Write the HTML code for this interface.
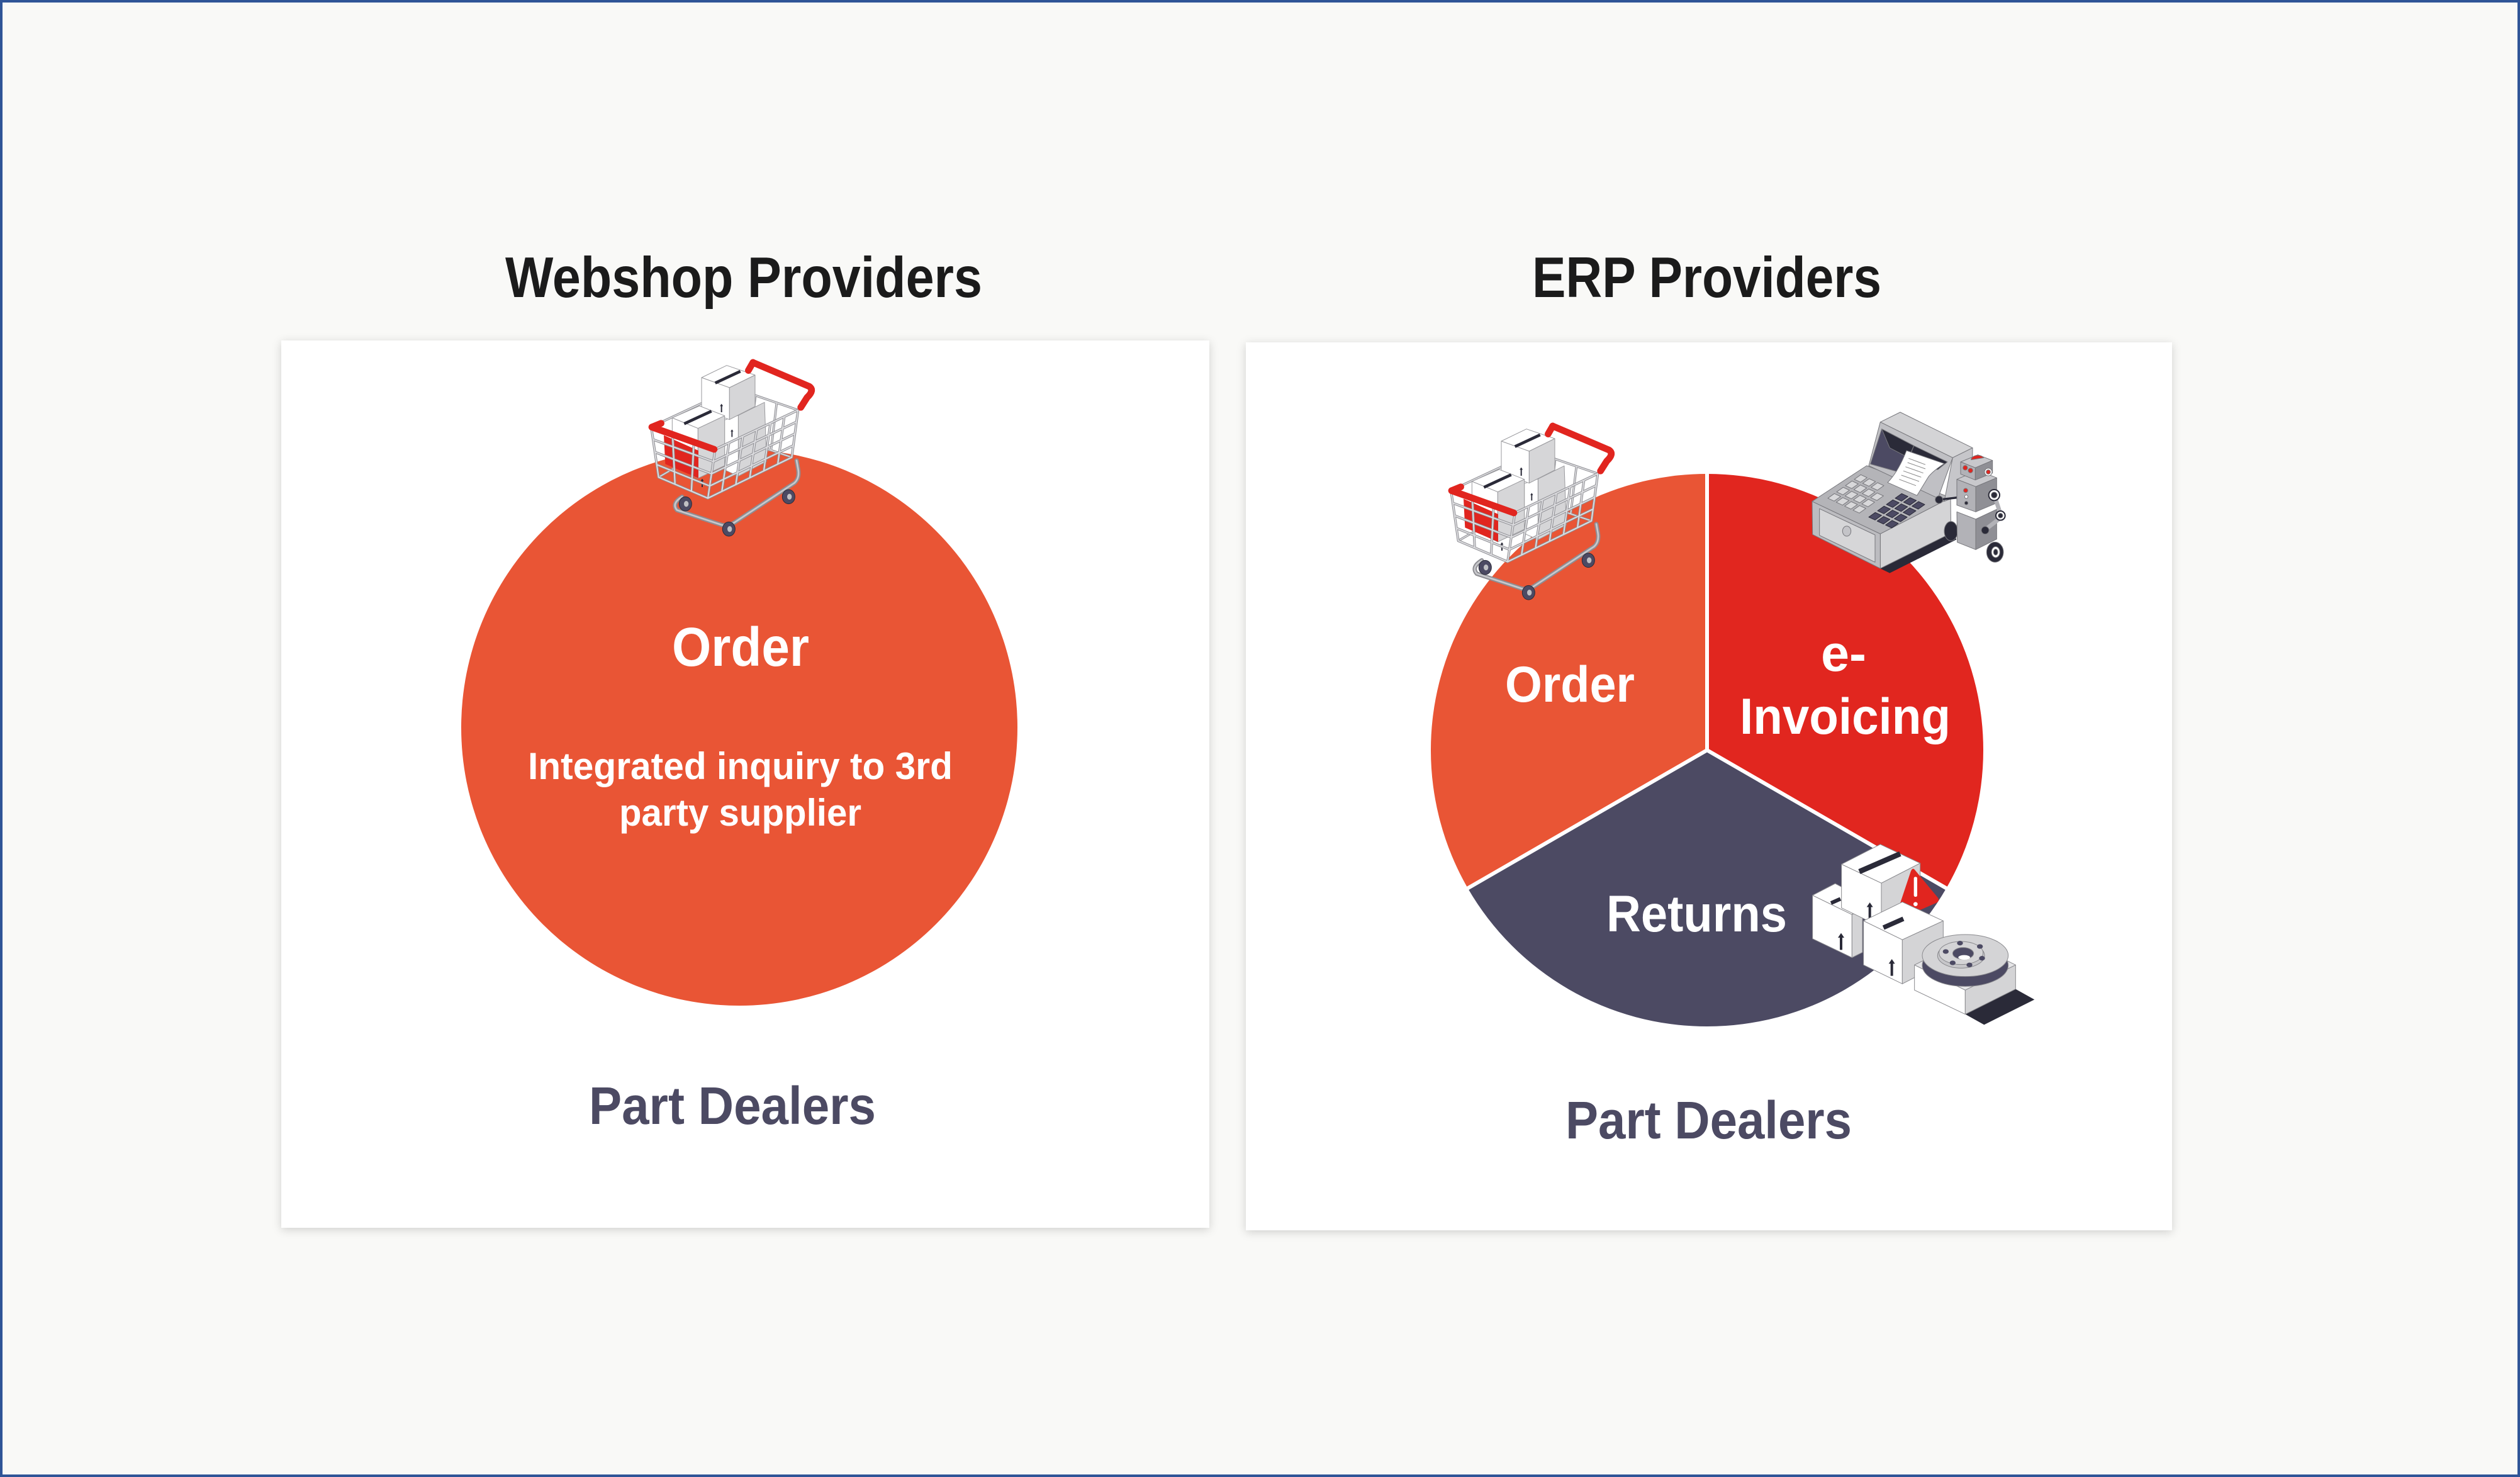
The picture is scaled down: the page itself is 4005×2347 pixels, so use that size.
<!DOCTYPE html>
<html><head><meta charset="utf-8">
<style>
html,body{margin:0;padding:0;}
body{width:4005px;height:2347px;position:relative;background:#f9f9f7;overflow:hidden;font-family:"Liberation Sans",Arial,sans-serif;}
.frame{position:absolute;left:0;top:0;width:4005px;height:2347px;box-sizing:border-box;border:4px solid #2f5597;}
.card{position:absolute;background:#fff;box-shadow:0 3px 14px rgba(0,0,0,0.17);}
svg{position:absolute;left:0;top:0;}
text{font-family:"Liberation Sans",Arial,sans-serif;font-weight:700;}
</style></head><body>
<div class="card" style="left:447px;top:541px;width:1475px;height:1410px"></div>
<div class="card" style="left:1980px;top:544px;width:1472px;height:1411px"></div>
<svg width="4005" height="2347" viewBox="0 0 4005 2347">
<defs>
  <path id="arr" d="M0 -40 L15 -18 L6 -18 L6 40 L-6 40 L-6 -18 L-15 -18 Z" fill="#2a2a38"/>
  <polygon id="lk" points="0,0 30,14 61,-8 31,-22" fill="#d8d8da" stroke="#77777c" stroke-width="3"/>
  <polygon id="dk" points="0,0 30,14 61,-8 31,-22" fill="#4c4a63" stroke="#2a2a38" stroke-width="3"/>
  <g id="cart" stroke-linejoin="round">
    <path d="M252 688 Q200 720 228 752 L440 822 Q470 830 500 812 L788 622 Q812 600 806 560 L798 515" fill="none" stroke="#8e8e93" stroke-width="20" stroke-linecap="round"/>
    <path d="M252 688 Q200 720 228 752 L440 822 Q470 830 500 812 L788 622 Q812 600 806 560 L798 515" fill="none" stroke="#c8c8cc" stroke-width="8" stroke-linecap="round"/>
    <g fill="#4c4a63" stroke="#2a2a38" stroke-width="3">
      <ellipse cx="268" cy="722" rx="30" ry="34"/><ellipse cx="760" cy="688" rx="30" ry="34"/><ellipse cx="475" cy="842" rx="30" ry="34"/>
    </g>
    <g fill="#c0c0c4">
      <ellipse cx="272" cy="722" rx="11" ry="14"/><ellipse cx="764" cy="688" rx="11" ry="14"/><ellipse cx="479" cy="842" rx="11" ry="14"/>
    </g>
    <g fill="none" stroke-linecap="round">
      <path d="M105 355 L500 170 L805 275 M500 170 L478 400 M140 595 L478 400 L775 500 M236.7 293.3 L252.7 530 M368.3 231.7 L365.3 465 M601.7 205 L577 433 M703.3 240 L676 466" stroke="#8f8f94" stroke-width="11"/>
      <path d="M105 355 L500 170 L805 275 M500 170 L478 400 M140 595 L478 400 L775 500 M236.7 293.3 L252.7 530 M368.3 231.7 L365.3 465 M601.7 205 L577 433 M703.3 240 L676 466" stroke="#dcdcdf" stroke-width="5"/>
    </g>
    <g stroke="#9a9a9e" stroke-width="3">
      <polygon points="520,300 645,238 655,520 520,590" fill="#d6d6d8"/>
      <polygon points="455,322 520,300 520,590 455,560" fill="#fff"/>
      <polygon points="345,120 465,62 600,108 478,168" fill="#fff"/>
      <polygon points="345,120 478,168 478,320 345,272" fill="#fff"/>
      <polygon points="478,168 600,108 600,258 478,320" fill="#d6d6d8"/>
      <polygon points="205,312 335,255 455,302 328,362" fill="#fff"/>
      <polygon points="205,312 328,362 328,600 205,540" fill="#fff"/>
      <polygon points="328,362 455,302 455,540 328,600" fill="#d6d6d8"/>
    </g>
    <path d="M410 146 L530 90 M262 340 L392 280" stroke="#2a2a38" stroke-width="14"/>
    <use href="#arr" transform="translate(440,265) scale(0.5)"/>
    <use href="#arr" transform="translate(490,385) scale(0.45)"/>
    <use href="#arr" transform="translate(348,622) scale(0.5)"/>
    <polygon points="165,395 330,468 330,600 172,532" fill="#e1251f"/>
    <g fill="none" stroke-linecap="round">
      <path d="M105 355 L410 462 L375 695 L140 595 Z M410 462 L805 275 L775 500 L375 695 M206.7 390.7 L218.3 628.3 M308.3 426.3 L296.7 661.7 M113.75 415 L401.25 520.25 M122.5 475 L392.5 578.5 M131.25 535 L383.75 636.75 M475.8 430.8 L441.7 662.5 M541.7 399.7 L508.3 630 M607.5 368.5 L575 597.5 M673.3 337.3 L641.7 565 M739.2 306.2 L708.3 532.5 M401.25 520.25 L797.5 331.25 M392.5 578.5 L790 387.5 M383.75 636.75 L782.5 443.75" stroke="#8f8f94" stroke-width="12"/>
      <path d="M105 355 L410 462 L375 695 L140 595 Z M410 462 L805 275 L775 500 L375 695 M206.7 390.7 L218.3 628.3 M308.3 426.3 L296.7 661.7 M113.75 415 L401.25 520.25 M122.5 475 L392.5 578.5 M131.25 535 L383.75 636.75 M475.8 430.8 L441.7 662.5 M541.7 399.7 L508.3 630 M607.5 368.5 L575 597.5 M673.3 337.3 L641.7 565 M739.2 306.2 L708.3 532.5 M401.25 520.25 L797.5 331.25 M392.5 578.5 L790 387.5 M383.75 636.75 L782.5 443.75" stroke="#dcdcdf" stroke-width="6"/>
    </g>
    <g fill="none" stroke="#e1251f" stroke-linecap="round" stroke-width="32">
      <path d="M590 48 L858 162 Q885 180 848 215 L818 262"/>
      <path d="M590 48 L568 86"/>
      <path d="M108 356 L152 338"/>
      <path d="M108 356 L405 462"/>
    </g>
  </g>
</defs>

<!-- Titles -->
<text x="803" y="472" font-size="91" fill="#1b1b1b" textLength="758" lengthAdjust="spacingAndGlyphs">Webshop Providers</text>
<text x="2435" y="472" font-size="91" fill="#1b1b1b" textLength="555" lengthAdjust="spacingAndGlyphs">ERP Providers</text>

<!-- Left circle -->
<circle cx="1175" cy="1156" r="442" fill="#e95535"/>
<use href="#cart" transform="translate(1000,560) scale(0.33333)"/>
<text x="1068" y="1058" font-size="87" fill="#fff" textLength="218" lengthAdjust="spacingAndGlyphs">Order</text>
<text x="839" y="1238" font-size="60" fill="#fff" textLength="675" lengthAdjust="spacingAndGlyphs">Integrated inquiry to 3rd</text>
<text x="984" y="1312" font-size="60" fill="#fff" textLength="385" lengthAdjust="spacingAndGlyphs">party supplier</text>
<text x="936" y="1786" font-size="84" fill="#4c4a63" textLength="456" lengthAdjust="spacingAndGlyphs">Part Dealers</text>

<!-- Right pie -->
<path d="M2713,1192 L2713,753 A439,439 0 0 0 2332.8,1411.5 Z" fill="#e95535"/>
<path d="M2713,1192 L2713,753 A439,439 0 0 1 3093.2,1411.5 Z" fill="#e1261f"/>
<path d="M2713,1192 L3093.2,1411.5 A439,439 0 0 1 2332.8,1411.5 Z" fill="#4c4a63"/>
<path d="M2713,1192 L2713,750 M2713,1192 L2330,1413 M2713,1192 L3096,1413" stroke="#fff" stroke-width="6"/>

<text x="2392" y="1115" font-size="81" fill="#fff" textLength="206" lengthAdjust="spacingAndGlyphs">Order</text>
<text x="2894" y="1066" font-size="81" fill="#fff" textLength="72" lengthAdjust="spacingAndGlyphs">e-</text>
<text x="2765" y="1166" font-size="81" fill="#fff" textLength="335" lengthAdjust="spacingAndGlyphs">Invoicing</text>
<text x="2553" y="1480" font-size="82" fill="#fff" textLength="287" lengthAdjust="spacingAndGlyphs">Returns</text>
<text x="2488" y="1809" font-size="84" fill="#4c4a63" textLength="455" lengthAdjust="spacingAndGlyphs">Part Dealers</text>

<use href="#cart" transform="translate(2271,661) scale(0.33333)"/>

<!-- Cash register + robot -->
<g transform="translate(2860,640) scale(0.33333)" stroke="#77777c" stroke-width="3" stroke-linejoin="round">
  <polygon points="385,790 735,612 748,652 430,812" fill="#2a2a38" stroke="none"/>
  <polygon points="385,625 720,452 722,622 385,790" fill="#d4d4d6"/>
  <polygon points="60,470 385,625 385,790 62,628" fill="#bcbcc0"/>
  <polygon points="95,505 360,630 360,760 95,632" fill="#d6d6d8"/>
  <ellipse cx="225" cy="612" rx="20" ry="24" fill="#c4c4c8"/>
  <polygon points="60,470 320,300 720,452 385,625" fill="#b4b4b8"/>
  <polygon points="385,92 480,45 825,215 730,262" fill="#d4d4d6"/>
  <polygon points="730,262 825,215 822,420 690,470" fill="#c6c6ca"/>
  <polygon points="385,92 730,262 660,455 330,300" fill="#c0c0c4"/>
  <polygon points="392,125 545,205 490,335 338,292" fill="#4c4a63"/>
  <polygon points="392,125 545,205 520,262 430,215" fill="#2a2a38"/>
  <polygon points="545,205 705,282 660,318 500,320" fill="#2a2a38"/>
  <path d="M510 228 L690 290 Q640 322 615 352 L560 442 L420 380 Q470 330 510 228 Z" fill="#fff"/>
  <path d="M520 265 L600 295 M515 285 L600 315 M505 305 L590 335 M495 325 L580 355 M485 345 L570 375 M475 365 L555 395" stroke="#888" stroke-width="3"/>
  <use href="#lk" x="135" y="455"/><use href="#lk" x="175" y="474"/><use href="#lk" x="215" y="493"/><use href="#lk" x="255" y="512"/>
  <use href="#lk" x="177" y="425"/><use href="#lk" x="217" y="444"/><use href="#lk" x="257" y="463"/><use href="#lk" x="297" y="482"/>
  <use href="#lk" x="219" y="395"/><use href="#lk" x="259" y="414"/><use href="#lk" x="299" y="433"/><use href="#lk" x="339" y="452"/>
  <use href="#lk" x="261" y="365"/><use href="#lk" x="301" y="384"/><use href="#lk" x="341" y="403"/>
  <use href="#dk" x="330" y="545"/><use href="#dk" x="370" y="564"/><use href="#dk" x="410" y="583"/>
  <use href="#dk" x="372" y="515"/><use href="#dk" x="412" y="534"/><use href="#dk" x="452" y="553"/>
  <use href="#dk" x="414" y="485"/><use href="#dk" x="454" y="504"/><use href="#dk" x="494" y="523"/>
  <use href="#dk" x="456" y="455"/><use href="#dk" x="496" y="474"/><use href="#dk" x="536" y="493"/>
  <!-- robot -->
  <ellipse cx="722" cy="612" rx="32" ry="46" fill="#2a2a38"/>
  <line x1="665" y1="462" x2="752" y2="452" stroke="#2a2a38" stroke-width="10"/>
  <circle cx="665" cy="462" r="18" fill="#2a2a38"/>
  <polygon points="750,520 840,555 840,700 752,665" fill="#b2b2b7"/>
  <polygon points="840,555 940,508 940,650 840,700" fill="#8f8f95"/>
  <polygon points="750,365 850,322 940,358 840,400" fill="#c8c8cc"/>
  <polygon points="750,365 840,400 840,520 750,488" fill="#b2b2b7"/>
  <polygon points="840,400 940,358 940,478 840,520" fill="#8f8f95"/>
  <polygon points="768,282 850,248 920,275 838,310" fill="#c8c8cc"/>
  <polygon points="768,282 838,310 838,368 768,340" fill="#b2b2b7"/>
  <polygon points="838,310 920,275 920,335 838,368" fill="#8f8f95"/>
  <path d="M818 272 A32 22 0 0 1 878 262 Z" fill="#e1251f"/>
  <circle cx="790" cy="310" r="11" fill="#e1251f"/><circle cx="815" cy="323" r="11" fill="#e1251f"/>
  <circle cx="900" cy="330" r="18" fill="#fff"/><circle cx="900" cy="330" r="10" fill="#e1251f"/>
  <circle cx="792" cy="418" r="10" fill="#e1251f"/><circle cx="795" cy="448" r="8" fill="#fff"/><circle cx="795" cy="478" r="8" fill="#2a2a38"/>
  <line x1="935" y1="460" x2="958" y2="530" stroke="#b2b2b7" stroke-width="20"/>
  <line x1="950" y1="555" x2="885" y2="605" stroke="#b2b2b7" stroke-width="20"/>
  <circle cx="928" cy="440" r="26" fill="#fff" stroke="#2a2a38" stroke-width="6"/><circle cx="928" cy="440" r="14" fill="#2a2a38"/>
  <circle cx="958" cy="538" r="22" fill="#fff" stroke="#2a2a38" stroke-width="6"/><circle cx="958" cy="538" r="11" fill="#2a2a38"/>
  <circle cx="885" cy="608" r="18" fill="#2a2a38"/>
  <ellipse cx="932" cy="712" rx="40" ry="48" fill="#2a2a38"/>
  <ellipse cx="935" cy="712" rx="20" ry="26" fill="#fff"/>
  <ellipse cx="935" cy="712" rx="10" ry="14" fill="#2a2a38"/>
</g>

<!-- Returns boxes + part -->
<g transform="translate(2850,1300) scale(0.33333)" stroke="#8a8a8e" stroke-width="3" stroke-linejoin="round">
  <polygon points="92,368 200,312 330,380 280,460" fill="#fff"/>
  <polygon points="92,368 280,460 280,665 92,575" fill="#fff"/>
  <polygon points="280,460 330,435 330,640 280,665" fill="#d4d4d6"/>
  <path d="M180 405 L225 385" stroke="#2a2a38" stroke-width="18"/>
  <use href="#arr" transform="translate(228,588)" stroke="none"/>
  <polygon points="230,220 415,125 605,215 420,310" fill="#fff"/>
  <polygon points="230,220 420,310 420,520 230,428" fill="#fff"/>
  <polygon points="420,310 605,215 605,420 420,520" fill="#d4d4d6"/>
  <path d="M315 255 L510 170" stroke="#2a2a38" stroke-width="25"/>
  <use href="#arr" transform="translate(365,442)" stroke="none"/>
  <path d="M578 245 L690 380 Q700 395 680 405 L510 480 Q488 488 490 465 L560 255 Q568 235 578 245 Z" fill="#e1251f" stroke="none"/>
  <rect x="575" y="280" width="16" height="95" rx="7" fill="#fff" stroke="none"/>
  <circle cx="583" cy="410" r="10" fill="#fff" stroke="none"/>
  <polygon points="335,490 520,400 715,490 520,580" fill="#fff"/>
  <polygon points="335,490 520,580 520,790 335,700" fill="#fff"/>
  <polygon points="520,580 715,490 715,690 520,790" fill="#d4d4d6"/>
  <path d="M430 522 L525 480" stroke="#2a2a38" stroke-width="22"/>
  <use href="#arr" transform="translate(470,712)" stroke="none"/>
  <polygon points="820,935 1060,815 1150,865 910,985" fill="#2a2a38" stroke="none"/>
  <polygon points="578,700 820,820 820,935 578,820" fill="#fff"/>
  <polygon points="820,820 1060,700 1060,815 820,935" fill="#d4d4d6"/>
  <polygon points="578,700 818,580 1060,700 820,820" fill="#e5e5e7"/>
  <ellipse cx="820" cy="702" rx="205" ry="100" fill="#4c4a63"/>
  <ellipse cx="820" cy="655" rx="205" ry="100" fill="#d4d4d6"/>
  <ellipse cx="800" cy="655" rx="112" ry="60" fill="#c6c6c9"/>
  <ellipse cx="800" cy="643" rx="105" ry="55" fill="#d4d4d6"/>
  <ellipse cx="810" cy="645" rx="50" ry="28" fill="#4c4a63"/>
  <ellipse cx="815" cy="664" rx="28" ry="11" fill="#fff" stroke="none"/>
  <g fill="#4c4a63" stroke="none">
    <ellipse cx="795" cy="596" rx="14" ry="11"/><ellipse cx="890" cy="612" rx="14" ry="11"/><ellipse cx="900" cy="668" rx="14" ry="11"/>
    <ellipse cx="840" cy="700" rx="14" ry="11"/><ellipse cx="760" cy="690" rx="14" ry="11"/><ellipse cx="727" cy="636" rx="14" ry="11"/>
  </g>
</g>
</svg>
<div class="frame"></div>
</body></html>
